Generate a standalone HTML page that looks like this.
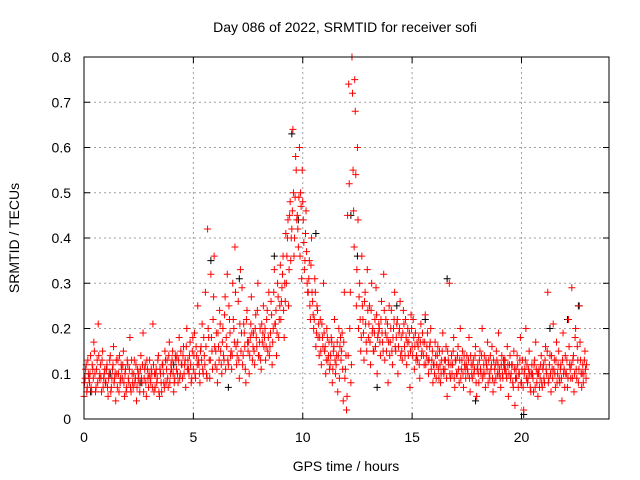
<!DOCTYPE html>
<html><head><meta charset="utf-8"><style>
body{margin:0;background:#fff}
svg{display:block;font-family:"Liberation Sans",sans-serif}
</style></head><body>
<svg id="c" width="640" height="480"></svg>
<script>
const binStarts=[0,0.25,0.5,0.75,1,1.25,1.5,1.75,2,2.25,2.5,2.75,3,3.25,3.5,3.75,4,4.25,4.5,4.75,5,5.25,5.5,5.75,6,6.25,6.5,6.75,7,7.25,7.5,7.75,8,8.25,8.5,8.75,9,9.25,9.5,9.75,10,10.25,10.5,10.75,11,11.25,11.5,11.75,12,12.25,12.5,12.75,13,13.25,13.5,13.75,14,14.25,14.5,14.75,15,15.25,15.5,15.75,16,16.25,16.5,16.75,17,17.25,17.5,17.75,18,18.25,18.5,18.75,19,19.25,19.5,19.75,20,20.25,20.5,20.75,21,21.25,21.5,21.75,22,22.25,22.5,22.75];
const redValues=[
[.05,.09,.12,.07,.10],[.08,.14,.06,.11,.17],[.10,.07,.13,.21,.09],[.12,.06,.15,.09,.11],
[.08,.12,.05,.10,.14],[.07,.11,.16,.09,.04],[.10,.13,.06,.08,.12],[.09,.15,.05,.11,.07],
[.12,.08,.18,.06,.10],[.07,.13,.09,.04,.11],[.10,.06,.14,.08,.19],[.09,.12,.05,.11,.07],
[.13,.08,.10,.21,.06],[.07,.11,.09,.14,.05],[.10,.06,.12,.08,.15],[.08,.13,.07,.17,.10],
[.11,.15,.06,.09,.13],[.14,.08,.18,.10,.12],[.09,.16,.12,.07,.20],[.13,.10,.17,.08,.15],
[.11,.19,.09,.14,.25],[.12,.08,.16,.21,.10],[.14,.28,.10,.42,.18],[.09,.32,.15,.22,.36],
[.12,.19,.08,.16,.24],[.15,.10,.20,.13,.27],[.18,.32,.12,.22,.14],[.11,.30,.20,.38,.16],
[.14,.26,.09,.33,.19],[.12,.21,.16,.08,.24],[.15,.10,.18,.27,.13],[.19,.12,.23,.16,.30],
[.14,.20,.11,.17,.25],[.18,.13,.22,.15,.28],[.16,.26,.12,.20,.33],[.21,.14,.30,.18,.25],
[.22,.29,.36,.18,.26],[.30,.40,.25,.45,.35],[.42,.64,.36,.49,.55],[.45,.38,.60,.50,.31],
[.48,.39,.35,.46,.30],[.28,.35,.22,.40,.26],[.20,.31,.16,.25,.18],[.14,.22,.12,.18,.30],
[.15,.10,.20,.13,.17],[.12,.18,.08,.15,.22],[.10,.14,.06,.20,.16],[.13,.19,.04,.28,.11],
[.02,.45,.74,.20,.08],[.80,.55,.38,.68,.25],[.60,.20,.30,.15,.36],[.22,.13,.28,.17,.33],
[.18,.25,.12,.30,.20],[.15,.22,.29,.10,.19],[.20,.14,.26,.17,.32],[.13,.22,.18,.08,.25],
[.17,.24,.12,.20,.28],[.15,.21,.10,.19,.26],[.18,.13,.24,.16,.22],[.12,.20,.17,.07,.23],
[.16,.22,.11,.19,.14],[.13,.18,.09,.21,.15],[.17,.12,.23,.14,.19],[.10,.16,.20,.13,.08],
[.12,.17,.09,.14,.11],[.15,.08,.13,.19,.10],[.11,.16,.05,.13,.30],[.09,.14,.12,.18,.07],
[.13,.10,.16,.08,.20],[.11,.15,.07,.12,.09],[.14,.10,.18,.06,.12],[.09,.13,.11,.16,.05],
[.12,.08,.15,.10,.20],[.10,.14,.07,.12,.17],[.13,.09,.11,.16,.06],[.08,.12,.15,.10,.19],
[.11,.07,.14,.09,.13],[.13,.10,.16,.05,.12],[.09,.12,.08,.15,.03],[.11,.14,.07,.10,.18],
[.08,.13,.02,.11,.20],[.12,.09,.15,.07,.10],[.10,.06,.13,.17,.08],[.05,.11,.09,.14,.07],
[.12,.08,.16,.10,.28],[.09,.14,.06,.11,.21],[.13,.07,.17,.10,.15],[.08,.12,.04,.19,.11],
[.14,.10,.07,.22,.12],[.09,.29,.13,.06,.18],[.11,.16,.08,.25,.13],[.07,.12,.10,.15,.09]];
const redValues2=[
[.08,.11,.06,.13,.09],[.10,.07,.12,.09,.15],[.06,.11,.08,.14,.10],[.09,.13,.07,.10,.08],
[.11,.07,.09,.13,.06],[.09,.12,.08,.10,.13],[.07,.10,.14,.09,.11],[.12,.08,.10,.06,.13],
[.09,.11,.07,.13,.08],[.10,.08,.12,.07,.09],[.08,.11,.09,.12,.06],[.11,.08,.13,.09,.10],
[.09,.11,.07,.12,.10],[.10,.08,.13,.06,.11],[.08,.12,.10,.07,.13],[.11,.09,.14,.08,.12],
[.13,.10,.08,.14,.11],[.10,.13,.09,.15,.12],[.14,.10,.13,.16,.11],[.11,.14,.12,.09,.18],
[.14,.10,.16,.12,.13],[.10,.15,.13,.11,.18],[.12,.16,.09,.20,.13],[.13,.18,.11,.27,.16],
[.15,.11,.19,.13,.21],[.12,.17,.14,.23,.11],[.16,.13,.25,.19,.15],[.14,.22,.17,.28,.12],
[.17,.13,.21,.15,.29],[.14,.19,.11,.22,.17],[.17,.14,.21,.19,.16],[.15,.20,.18,.24,.14],
[.17,.13,.21,.19,.16],[.20,.16,.24,.18,.14],[.19,.23,.17,.28,.21],[.24,.19,.27,.22,.34],
[.26,.32,.24,.30,.41],[.36,.44,.33,.48,.40],[.46,.50,.40,.58,.44],[.42,.49,.36,.47,.55],
[.44,.33,.41,.37,.28],[.31,.25,.34,.28,.23],[.22,.28,.19,.24,.21],[.18,.15,.21,.16,.19],
[.16,.13,.18,.14,.11],[.14,.17,.11,.16,.13],[.12,.17,.14,.09,.18],[.15,.11,.17,.09,.14],
[.05,.14,.52,.28,.12],[.72,.46,.75,.54,.33],[.44,.27,.22,.18,.25],[.19,.26,.21,.15,.24],
[.21,.17,.24,.19,.15],[.19,.16,.23,.18,.21],[.17,.22,.19,.15,.24],[.19,.15,.21,.17,.14],
[.20,.15,.18,.22,.16],[.18,.22,.16,.20,.14],[.15,.19,.21,.14,.18],[.17,.14,.19,.15,.20],
[.14,.18,.16,.13,.17],[.16,.12,.17,.14,.19],[.14,.17,.12,.16,.13],[.13,.17,.11,.15,.12],
[.10,.14,.12,.16,.09],[.12,.10,.15,.11,.13],[.13,.09,.15,.12,.10],[.12,.10,.15,.09,.13],
[.10,.14,.11,.13,.09],[.13,.10,.14,.11,.12],[.11,.13,.09,.14,.10],[.12,.10,.14,.08,.11],
[.10,.13,.11,.14,.09],[.12,.10,.13,.11,.08],[.10,.14,.12,.09,.13],[.11,.09,.13,.12,.10],
[.09,.12,.10,.13,.11],[.11,.09,.12,.10,.14],[.10,.12,.07,.11,.09],[.09,.12,.10,.13,.08],
[.11,.07,.10,.13,.09],[.08,.11,.10,.06,.12],[.09,.12,.07,.11,.10],[.10,.07,.12,.08,.11],
[.09,.13,.11,.15,.08],[.12,.10,.14,.09,.11],[.10,.13,.08,.12,.09],[.11,.09,.13,.10,.07],
[.10,.13,.09,.16,.11],[.12,.09,.14,.10,.20],[.09,.13,.11,.17,.10],[.10,.08,.13,.11,.12]];
const blackTimes=[0.3,1.2,2.6,4.1,5.8,6.6,7.1,8.7,9.5,9.8,10.6,12.2,12.5,13.4,14.3,15.6,16.6,17.9,19.2,20.1,21.3,22.1,22.6];
const blackValues=[0.06,0.1,0.08,0.12,0.35,0.07,0.31,0.36,0.63,0.44,0.41,0.45,0.36,0.07,0.25,0.22,0.31,0.04,0.12,0.01,0.2,0.22,0.25];
const xTicks=[0,5,10,15,20];
const yTicks=[0,0.1,0.2,0.3,0.4,0.5,0.6,0.7,0.8];
const yTickLabels=["0","0.1","0.2","0.3","0.4","0.5","0.6","0.7","0.8"];

const L=84,R=609,T=57,B=419,XMAX=24,YMAX=0.8;
const sx=v=>L+(R-L)*v/XMAX, sy=v=>B-(B-T)*v/YMAX;
const svg=document.getElementById('c'), NS='http://www.w3.org/2000/svg';
function mk(tag,attrs,parent){const e=document.createElementNS(NS,tag);for(const k in attrs)e.setAttribute(k,attrs[k]);(parent||svg).appendChild(e);return e;}
function txt(s,attrs){const e=mk('text',attrs);e.textContent=s;return e;}

const grid=mk('g',{stroke:'#a0a0a0','stroke-width':1,'stroke-dasharray':'2,3'});


yTicks.forEach((v,i)=>{
  if(i>0&&i<yTicks.length-1){const l=mk('line',{x1:L,x2:R,y1:sy(v),y2:sy(v)},grid);
  
  }
  const t=txt(yTickLabels[i],{x:71,y:sy(v)+5,'text-anchor':'end','font-size':14,fill:'#000'});
  
  
  mk('line',{x1:L,x2:L+6,y1:sy(v),y2:sy(v),stroke:'#000'});
  mk('line',{x1:R,x2:R-6,y1:sy(v),y2:sy(v),stroke:'#000'});
});
xTicks.forEach(v=>{
  if(v>0){const l=mk('line',{x1:sx(v),x2:sx(v),y1:T,y2:B},grid);
  
  }
  const t=txt(String(v),{x:sx(v),y:442,'text-anchor':'middle','font-size':14,fill:'#000'});
  
  
  mk('line',{x1:sx(v),x2:sx(v),y1:B,y2:B-6,stroke:'#000'});
  mk('line',{x1:sx(v),x2:sx(v),y1:T,y2:T+6,stroke:'#000'});
});

function plus(g,x,y,name){const p=mk('path',{d:`M${x-3.5} ${y}h7M${x} ${y-3.5}v7`},g);
  
  }
const gb=mk('g',{stroke:'#000','stroke-width':1,fill:'none'});


blackTimes.forEach((t,i)=>plus(gb,sx(t),sy(blackValues[i]),'black-point'));
const gr=mk('g',{stroke:'#ff0000','stroke-width':1,fill:'none'});


binStarts.forEach((b,i)=>{
  redValues[i].forEach((v,j)=>plus(gr,sx(b+j*0.05),sy(v),'red-point'));
  redValues2[i].forEach((v,j)=>plus(gr,sx(b+0.025+j*0.05),sy(v),'red-point'));
});

const frame=mk('rect',{x:L,y:T,width:R-L,height:B-T,fill:'none',stroke:'#000','stroke-width':1});



const title=txt('Day 086 of 2022, SRMTID for receiver sofi',{x:345,y:32,'text-anchor':'middle','font-size':14});


const xl=txt('GPS time / hours',{x:346,y:471,'text-anchor':'middle','font-size':14});


const yl=txt('SRMTID / TECUs',{x:0,y:0,'text-anchor':'middle','font-size':14,transform:'translate(19,238) rotate(-90)'});


</script>
</body></html>
